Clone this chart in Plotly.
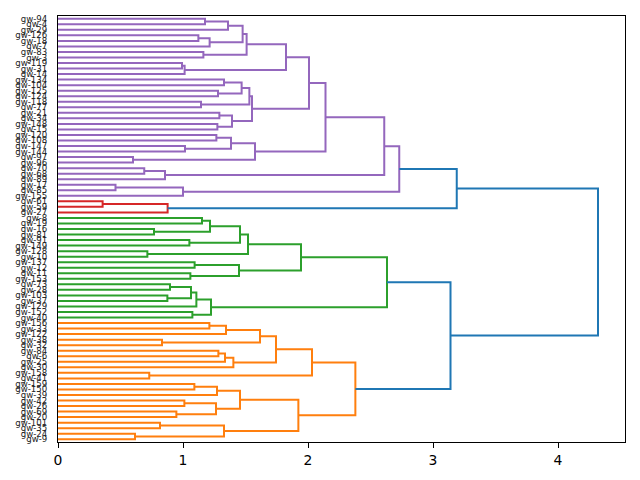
import plotly.graph_objects as go

# Leaf labels, top to bottom
leaf_labels = [
    "gw-94", "gw-4", "gw-29", "gw-126", "gw-18", "gw-7", "gw-83", "gw-3", "gw-119", "gw-31",
    "gw-14", "gw-134", "gw-104", "gw-125", "gw-124", "gw-118", "gw-77", "gw-21", "gw-34", "gw-148",
    "gw-15", "gw-120", "gw-108", "gw-147", "gw-144", "gw-97", "gw-96", "gw-70", "gw-68", "gw-89",
    "gw-17", "gw-85", "gw-155",
    "gw-61", "gw-59", "gw-27",
    "gw-8", "gw-19", "gw-16", "gw-81", "gw-91", "gw-149", "gw-128", "gw-10", "gw-137", "gw-12",
    "gw-11", "gw-153", "gw-73", "gw-28", "gw-103", "gw-37", "gw-129", "gw-152", "gw-40",
    "gw-156", "gw-33", "gw-122", "gw-38", "gw-32", "gw-84", "gw-6", "gw-25", "gw-30", "gw-158",
    "gw-41", "gw-159", "gw-150", "gw-39", "gw-42", "gw-26", "gw-69", "gw-20", "gw-101", "gw-35",
    "gw-24", "gw-9",
]

# Merges: (node name, child a, child b, merge distance); ints are leaf indices
merge_names = [
    "p1", "p2", "p3", "p4", "p5", "p6", "p7", "p8", "p9", "p10",
    "p11", "p12", "p13", "p14", "p15", "p16", "p17", "p18", "p19", "p20",
    "p21", "p22", "p23", "p24", "p25", "p26", "p27", "p28", "p29", "p30", "p31", "p32",
    "r1", "r2", "b1",
    "g1", "g2", "g3", "g4", "g5", "g6", "g7", "g8", "g9", "g10", "g11", "g12", "g13", "g14",
    "g15", "g16", "g17", "g18",
    "o1", "o2", "o3", "o4", "o5", "o6", "o7", "o8", "o9", "o10", "o11", "o12", "o13", "o14",
    "o15", "o16", "o17", "o18", "o19", "o20", "o21",
    "b2", "b3",
]
merge_a = [
    0, "p1", 3, "p3", "p2", 6, "p5", 8, "p8", "p7",
    11, 13, "p11", 15, "p13", 17, 19, "p16", "p15", "p10",
    21, 23, "p21", 25, "p23", "p20", 27, "p27", "p26", 30, "p30", "p29",
    33, "r1", "p32",
    36, 38, "g1", 40, "g3", 42, "g5", 44, 46, "g8", "g7", 48, 50, "g12",
    "g14", 53, "g15", "g11",
    55, "o1", 58, "o2", 60, "o5", "o6", "o4", 64, "o8", 66, "o11", 69, 71,
    "o13", "o12", 73, 75, "o17", "o16", "o10",
    "g18", "b1",
]
merge_b = [
    1, 2, 4, 5, "p4", 7, "p6", 9, 10, "p9",
    12, 14, "p12", 16, "p14", 18, 20, "p17", "p18", "p19",
    22, 24, "p22", 26, "p24", "p25", 28, 29, "p28", 31, 32, "p31",
    34, 35, "r2",
    37, 39, "g2", 41, "g4", 43, "g6", 45, 47, "g9", "g10", 49, 51, "g13",
    52, 54, "g16", "g17",
    56, 57, 59, "o3", 61, 62, 63, "o7", 65, "o9", 67, 68, 70, 72,
    "o14", "o15", 74, 76, "o18", "o19", "o20",
    "o21", "b2",
]
merge_height = [
    1.176, 1.36, 1.123, 1.213, 1.477, 1.163, 1.509, 0.992, 1.013, 1.824,
    1.328, 1.28, 1.469, 1.144, 1.531, 1.291, 1.275, 1.392, 1.552, 2.008,
    1.267, 1.016, 1.384, 0.60, 1.576, 2.14, 0.69, 0.856, 2.61, 0.46, 1.0, 2.73,
    0.357, 0.877, 3.19,
    1.152, 0.768, 1.216, 1.051, 1.456, 0.715, 1.52, 1.093, 1.059, 1.448, 1.944, 0.896, 0.875, 1.064,
    1.107, 1.075, 1.224, 2.632,
    1.211, 1.344, 0.832, 1.616, 1.283, 1.336, 1.403, 1.744, 0.73, 2.032, 1.091, 1.272, 1.011, 0.947,
    1.264, 1.456, 0.816, 0.616, 1.328, 1.923, 2.379,
    3.14, 4.32,
]

cluster_palette = ["#ff7f0e", "#2ca02c", "#d62728", "#9467bd"]
above_color = "#1f77b4"

n = len(leaf_labels)
leaf_y = [10 * (n - 1 - k) + 5 for k in range(n)]

pos = {}   # node -> (x, y)
for k in range(n):
    pos[k] = (0.0, leaf_y[k])
children = {}
for name, a, b, h in zip(merge_names, merge_a, merge_b, merge_height):
    ya = pos[a][1]
    yb = pos[b][1]
    pos[name] = (h, (ya + yb) / 2.0)
    children[name] = (a, b)

max_h = max(merge_height)
threshold = 0.7 * max_h


def leaves_of(node):
    if isinstance(node, int):
        return [node]
    a, b = children[node]
    return leaves_of(a) + leaves_of(b)


# find clusters: nodes below threshold whose parent is above
cluster_roots = []
for name, a, b, h in zip(merge_names, merge_a, merge_b, merge_height):
    if h >= threshold:
        for c in (a, b):
            if not isinstance(c, int) and pos[c][0] < threshold:
                cluster_roots.append(c)
cluster_roots.sort(key=lambda c: min(leaf_y[l] for l in leaves_of(c)))
node_color = {}


def paint(node, col):
    if isinstance(node, int):
        return
    node_color[node] = col
    a, b = children[node]
    paint(a, col)
    paint(b, col)


for i, c in enumerate(cluster_roots):
    paint(c, cluster_palette[i % len(cluster_palette)])
for name, h in zip(merge_names, merge_height):
    if h >= threshold:
        node_color[name] = above_color

segs = {}
for name, a, b, h in zip(merge_names, merge_a, merge_b, merge_height):
    xa, ya = pos[a]
    xb, yb = pos[b]
    col = node_color[name]
    xs, ys = segs.setdefault(col, ([], []))
    xs.extend([xa, h, h, xb, None])
    ys.extend([ya, ya, yb, yb, None])

fig = go.Figure()
order = cluster_palette + [above_color]
for col in order:
    if col in segs:
        xs, ys = segs[col]
        fig.add_trace(go.Scatter(x=xs, y=ys, mode="lines",
                                 line=dict(color=col, width=2),
                                 hoverinfo="skip", showlegend=False))

fig.update_layout(
    width=640, height=480,
    margin=dict(l=58, r=15, t=16, b=38),
    paper_bgcolor="white", plot_bgcolor="white",
    font=dict(family="DejaVu Sans", color="black"),
    showlegend=False,
)
fig.update_xaxes(
    range=[0, max_h * 1.05], tickvals=[0, 1, 2, 3, 4], ticktext=["0", "1", "2", "3", "4"],
    showgrid=False, zeroline=False, showline=True, linecolor="black", linewidth=1,
    mirror=True, ticks="outside", ticklen=5, tickwidth=1, tickcolor="black",
    tickfont=dict(size=13.9, family="DejaVu Sans", color="black"),
)
fig.update_yaxes(
    range=[0, 10 * n], tickvals=leaf_y, ticktext=leaf_labels,
    showgrid=False, zeroline=False, showline=True, linecolor="black", linewidth=1,
    mirror=True, ticks="", ticklabelstandoff=8,
    tickfont=dict(size=8.6, family="DejaVu Sans", color="#222222"),
)

fig.write_html("out.html")
